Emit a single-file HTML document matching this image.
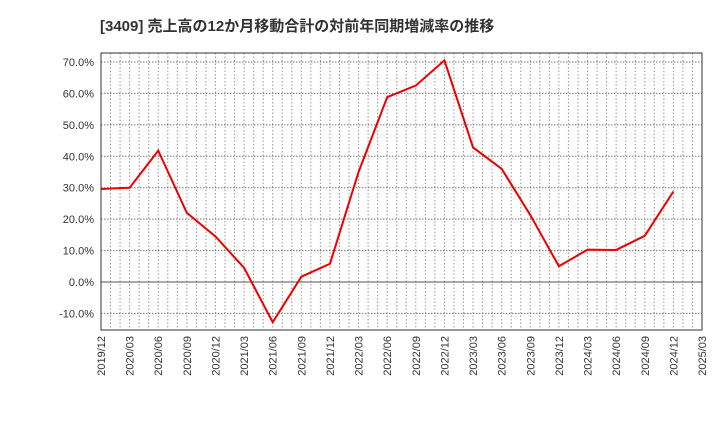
<!DOCTYPE html>
<html><head><meta charset="utf-8"><style>body{margin:0;background:#fff}svg{display:block}</style></head>
<body>
<svg id="c" width="720" height="440" xmlns="http://www.w3.org/2000/svg" font-family="'Liberation Sans','Noto Sans CJK JP',sans-serif">
<text x="100" y="31" font-size="15" font-weight="bold" fill="#333">[3409]  売上高の12か月移動合計の対前年同期増減率の推移</text>
<g id="grid"></g>
<g id="axes"></g>
<polyline id="line" fill="none" stroke="#e00" stroke-width="2"/>
<rect x="101" y="53" width="601" height="277" fill="none" stroke="#333"/>
</svg>
<script>
const categories=["2019/12","2020/03","2020/06","2020/09","2020/12","2021/03","2021/06","2021/09","2021/12","2022/03","2022/06","2022/09","2022/12","2023/03","2023/06","2023/09","2023/12","2024/03","2024/06","2024/09","2024/12","2025/03"];
const values=[29.6,30.0,41.8,22.0,14.5,4.5,-12.8,1.7,5.8,35.0,58.8,62.5,70.5,42.8,36.0,21.3,5.0,10.3,10.2,14.7,28.8];
const yTicks=[-10,0,10,20,30,40,50,60,70];
const NS="http://www.w3.org/2000/svg";
const x0=101,x1=702,pTop=53,pBot=330;
const xs=i=>x0+(x1-x0)*i/(categories.length-1);
const ys=v=>282-v*220/70;
const grid=document.getElementById('grid'),axes=document.getElementById('axes');
function mk(t,a,p){const e=document.createElementNS(NS,t);for(const k in a)e.setAttribute(k,a[k]);p.appendChild(e);return e;}
const nm=(categories.length-1)*3;
for(let m=1;m<nm;m++){const x=x0+(x1-x0)*m/nm;
const l=mk('line',{x1:x,x2:x,y1:pTop,y2:pBot,stroke:'#999','stroke-dasharray':'1.5,2'},grid);

}
yTicks.forEach(v=>{const y=ys(v);
const l=mk('line',{x1:x0,x2:x1,y1:y,y2:y,stroke:v===0?'#555':'#777','stroke-dasharray':v===0?'none':'1.5,1.5'},grid);


const t=mk('text',{x:94,y:y+4,'text-anchor':'end','font-size':11,fill:'#333'},axes);t.textContent=v.toFixed(1)+'%';

});
categories.forEach((c,i)=>{const x=xs(i);
const t=mk('text',{transform:`translate(${x+4},336) rotate(-90)`,'text-anchor':'end','font-size':11,fill:'#333'},axes);t.textContent=c;

});
document.getElementById('line').setAttribute('points',values.map((v,i)=>xs(i)+','+ys(v)).join(' '));
</script>
</body></html>
